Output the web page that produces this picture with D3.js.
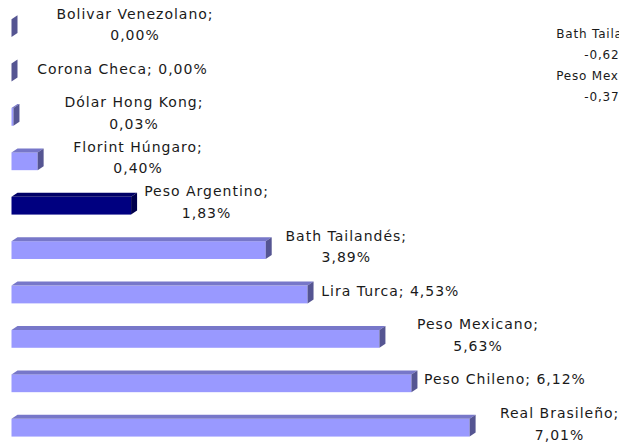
<!DOCTYPE html>
<html>
<head>
<meta charset="utf-8">
<script src="https://cdn.jsdelivr.net/npm/d3@7"></script>
<style>
  body { margin: 0; background: #fff; }
  svg { display: block; }
  text { font-family: "DejaVu Sans", Verdana, sans-serif; fill: #1a1a1a; }
</style>
</head>
<body>
<div id="chart"></div>
<script>
// Currencies and their change (%)
const currencies = ['Bolivar Venezolano', 'Corona Checa', 'Dólar Hong Kong', 'Florint Húngaro',
    'Peso Argentino', 'Bath Tailandés', 'Lira Turca', 'Peso Mexicano', 'Peso Chileno', 'Real Brasileño'];
const changes = [0.00, 0.00, 0.03, 0.40, 1.83, 3.89, 4.53, 5.63, 6.12, 7.01];
const highlighted = ['Peso Argentino'];

// labels of the neighbouring (cut off) series on the right edge
const otherCurrencies = ['Bath Tailandés', 'Peso Mexicano'];
const otherChanges = [-0.62, -0.37];

// label placement, as the labels sit in the original sheet
const labelDx = [123.5, 111, 120.5, 100.4, 75.5, 80.6, 82.8, 98.6, 93.5, 90];
const labelWrap = [true, false, true, true, true, true, false, true, false, true];

const width = 619;
const height = 446;
const depthX = 6;
const depthY = 4;

// spreadsheet style: decimal comma, plain hyphen for negatives
const fmt = v => d3.format('.2f')(v).replace('.', ',').replace('\u2212', '-') + '%';

const svg = d3.select('#chart').append('svg')
    .attr('width', width)
    .attr('height', height);

const xScale = d3.scaleLinear()
    .domain([0, 7.5])
    .range([11.5, 11.5 + 7.5 * 65.35]);

const yScale = d3.scaleBand()
    .domain(currencies)
    .range([5.9, 449.9])
    .paddingInner(0.6)
    .paddingOuter(0.3);

const bw = yScale.bandwidth();

const data = currencies.map((name, i) => ({ name, value: changes[i], dx: labelDx[i], wrap: labelWrap[i] }));

const colors = d => highlighted.includes(d.name)
    ? { front: '#000080', top: '#000066', side: '#00004c' }
    : { front: '#9999ff', top: '#7777c9', side: '#555592' };

const bars = svg.selectAll('g.bar')
    .data(data)
    .enter().append('g')
    .attr('class', 'bar');

// front face
bars.append('rect')
    .attr('x', xScale(0))
    .attr('y', d => yScale(d.name))
    .attr('width', d => xScale(d.value) - xScale(0))
    .attr('height', bw)
    .attr('fill', d => colors(d).front);

// top face
bars.append('path')
    .attr('d', d => {
        const x0 = xScale(0), x1 = xScale(d.value), y0 = yScale(d.name);
        return `M${x0},${y0}L${x0 + depthX},${y0 - depthY}L${x1 + depthX},${y0 - depthY}L${x1},${y0}Z`;
    })
    .attr('fill', d => colors(d).top);

// right side face
bars.append('path')
    .attr('d', d => {
        const x1 = xScale(d.value), y0 = yScale(d.name);
        return `M${x1},${y0}L${x1 + depthX},${y0 - depthY}L${x1 + depthX},${y0 + bw - depthY}L${x1},${y0 + bw}Z`;
    })
    .attr('fill', d => colors(d).side);

// data labels
const labels = svg.selectAll('text.label')
    .data(data)
    .enter().append('text')
    .attr('class', 'label')
    .attr('x', d => xScale(d.value) + d.dx)
    .attr('y', d => yScale(d.name) + bw / 2)
    .style('text-anchor', 'middle')
    .style('font-size', '14px')
    .style('letter-spacing', '1px');

labels.each(function (d) {
    const t = d3.select(this);
    const cx = xScale(d.value) + d.dx;
    if (d.wrap) {
        t.append('tspan').attr('x', cx).attr('dy', -9.5).text(`${d.name};`);
        t.append('tspan').attr('x', cx).attr('dy', 21.5).text(fmt(d.value));
    } else {
        t.append('tspan').attr('x', cx).attr('dy', 1).text(`${d.name}; ${fmt(d.value)}`);
    }
});

// cut-off labels of the other chart (clipped by the right edge, as in the original)
otherCurrencies.forEach((name, i) => {
    const t = svg.append('text')
        .attr('x', 608)
        .attr('y', 37.7 + i * 42)
        .style('text-anchor', 'middle')
        .style('font-size', '12px')
        .style('letter-spacing', '0.8px');
    t.append('tspan').attr('x', 608).text(`${name};`);
    t.append('tspan').attr('x', 608).attr('dy', 20.8).text(fmt(otherChanges[i]));
});
</script>
</body>
</html>
